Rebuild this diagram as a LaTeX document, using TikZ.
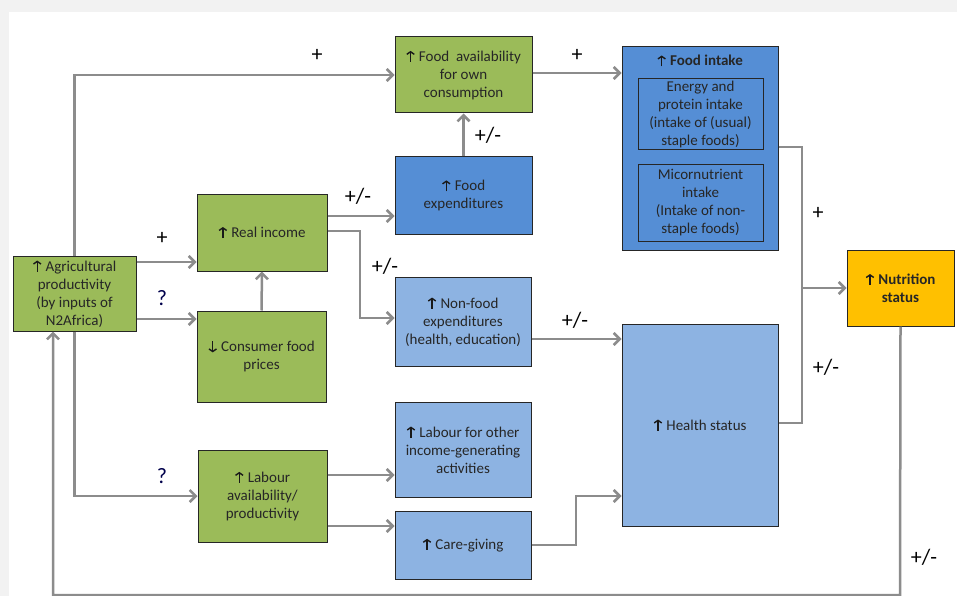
\documentclass[tikz,border=0pt]{standalone}
\usepackage{fontspec}
\setmainfont{Carlito}
\usetikzlibrary{arrows.meta}
\definecolor{bgray}{HTML}{F2F2F2}
\definecolor{cgreen}{HTML}{9BBB59}
\definecolor{cblue}{HTML}{558ED5}
\definecolor{clblue}{HTML}{8DB3E2}
\definecolor{cgold}{HTML}{FFC000}
\definecolor{cline}{HTML}{8C8C8C}
\definecolor{cbord}{HTML}{262626}
\newcommand{\up}{\tikz[baseline=0pt]\draw[draw=black!90,line width=1.4pt,-{Straight Barb[length=2.6pt,width=7.5pt]}] (0pt,-0.5pt)--(0pt,10.5pt);\hspace{4pt}}
\newcommand{\dn}{\tikz[baseline=0pt]\draw[draw=black!90,line width=1.4pt,-{Straight Barb[length=2.6pt,width=7.5pt]}] (0pt,10.5pt)--(0pt,-0.5pt);\hspace{4pt}}
\begin{document}
\begin{tikzpicture}[x=1pt,y=-1pt,
  box/.style={draw=cbord,line width=1pt,align=center,inner sep=2pt,
    font=\fontsize{15}{18}\selectfont,text=black!85},
  gbox/.style={box,fill=cgreen},
  bbox/.style={box,fill=cblue},
  lbox/.style={box,fill=clblue},
  arr/.style={draw=cline,line width=2.5pt,-{Straight Barb[length=6pt,width=12pt]}},
  ln/.style={draw=cline,line width=2.5pt},
  lab/.style={font=\fontsize{22}{22}\selectfont}]
\fill[bgray] (0,0) rectangle (957,596);
\fill[white] (9,12) rectangle (957,596);
\useasboundingbox (0,0) rectangle (957,596);
% nodes
\node[gbox,minimum width=123pt,minimum height=75pt] (agri) at (74.5,293.5) {\up Agricultural\\productivity\\(by inputs of\\N2Africa)};
\node[gbox,minimum width=130pt,minimum height=77pt] (realinc) at (262,232.5) {\up Real income};
\node[gbox,minimum width=129pt,minimum height=91pt] (prices) at (261.5,356.5) {\dn Consumer food\\prices};
\node[gbox,minimum width=129pt,minimum height=92pt] (labav) at (262.5,496) {\up Labour\\availability/\\productivity};
\node[gbox,minimum width=137pt,minimum height=76pt] (favail) at (463.5,75) {\up Food\ \ availability\\for own\\consumption};
\node[bbox,minimum width=137pt,minimum height=77pt] (fexp) at (463.5,195.5) {\up Food\\expenditures};
\node[lbox,minimum width=136pt,minimum height=89pt] (nonfood) at (463,321.5) {\up Non-food\\expenditures\\(health, education)};
\node[lbox,minimum width=136pt,minimum height=95pt] (labother) at (463,449.5) {\up Labour for other\\income-generating\\activities};
\node[lbox,minimum width=136pt,minimum height=68pt] (care) at (463,545) {\up Care-giving};
\node[bbox,minimum width=156pt,minimum height=203pt] (intake) at (700,148.5) {};
\node[box,draw=none,font=\fontsize{15}{18}\selectfont\bfseries] (intaketitle) at (700,61) {\up Food intake};
\node[bbox,minimum width=125pt,minimum height=71pt] (inner1) at (700.5,114.5) {Energy and\\protein intake\\(intake of (usual)\\staple foods)};
\node[bbox,minimum width=125pt,minimum height=76pt] (inner2) at (700.5,203) {Micornutrient\\intake\\(Intake of non-\\staple foods)};
\node[lbox,minimum width=156pt,minimum height=202pt] (health) at (700,425) {\up Health status};
\node[box,fill=cgold,minimum width=107pt,minimum height=76pt,font=\fontsize{15}{18}\selectfont\bfseries] (nutr) at (900.5,288) {\up Nutrition\\status};
% connectors
\draw[arr] (agri.north) |- (favail.west);
\draw[arr] (agri.east |- 0,262) -- (realinc.west |- 0,262);
\draw[arr] (agri.east |- 0,319) -- (prices.west |- 0,319);
\draw[arr] (agri.south) |- (labav.west);
\draw[arr] (prices.north) -- (realinc.south);
\draw[arr] (realinc.east |- 0,216) -- (fexp.west |- 0,216);
\coordinate (rbend) at (360,231);
\draw[arr] (realinc.east |- rbend) -- (rbend) |- (nonfood.west |- 0,318);
\draw[arr] (fexp.north) -- (favail.south);
\draw[arr] (favail.east |- 0,73) -- (intake.west |- 0,73);
\coordinate (bus) at (802,288);
\draw[ln] (intake.east |- 0,147) -| (bus);
\draw[ln] (health.east |- 0,423) -| (bus);
\draw[arr] (bus) -- (nutr.west);
\draw[arr] (nonfood.east |- 0,339) -- (health.west |- 0,339);
\draw[arr] (labav.east |- 0,475) -- (labother.west |- 0,475);
\draw[arr] (labav.east |- 0,526) -- (care.west |- 0,526);
\coordinate (cbend) at (576,545);
\draw[arr] (care.east |- cbend) -- (cbend) |- (health.west |- 0,496);
\coordinate (fb1) at (900,595);
\coordinate (fb2) at (53,595);
\draw[arr] (nutr.south) -- (fb1) -- (fb2) -- (agri.south -| fb2);
% labels
\node[lab] (l1) at (317,55) {+};
\node[lab] (l2) at (577,55) {+};
\node[lab] (l3) at (488,135) {+/-};
\node[lab] (l4) at (358,196) {+/-};
\node[lab] (l5) at (162,238) {+};
\node[lab,text=black!70!blue] (l6) at (162,298) {?};
\node[lab] (l7) at (385,266) {+/-};
\node[lab] (l8) at (575,320) {+/-};
\node[lab] (l9) at (818,213) {+};
\node[lab] (l10) at (826,367) {+/-};
\node[lab,text=black!70!blue] (l11) at (162,476) {?};
\node[lab] (l12) at (924,557) {+/-};
\end{tikzpicture}
\end{document}
